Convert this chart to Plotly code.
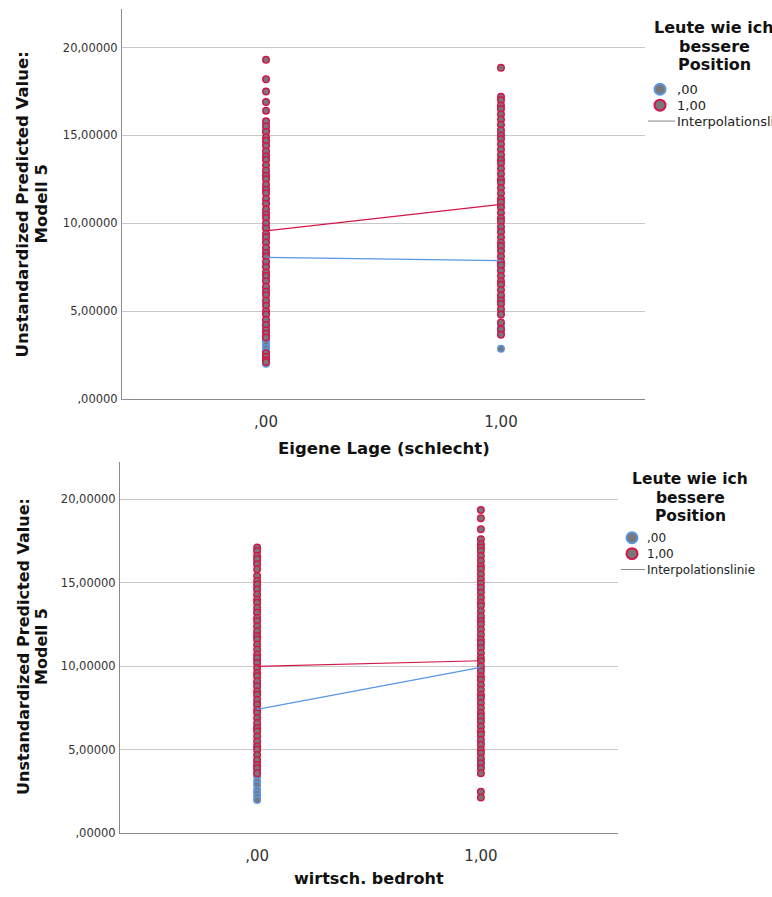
import plotly.graph_objects as go

# ---------------- data ----------------
x_categories = [0, 1]
x_ticktext = [",00", "1,00"]
y_tickvals = [0, 5, 10, 15, 20]
y_ticktext = [",00000", "5,00000", "10,00000", "15,00000", "20,00000"]
legend_labels = [",00", "1,00"]

# Chart 1: Eigene Lage (schlecht)
c1_x0_blue = [15.6, 15.3, 14.6, 13.9, 12.8, 12.0, 11.2, 10.6, 9.8, 9.0, 8.4, 7.6, 6.9, 6.2,
              5.5, 4.9, 4.4, 4.1, 3.8, 3.5, 3.3, 3.1, 2.9, 2.7, 2.5, 2.3, 2.1, 2.0]
c1_x0_red = [19.3, 18.2, 17.5, 16.9, 16.4, 15.8, 15.5, 15.2, 14.9, 14.7, 14.4, 14.1, 13.8, 13.6,
             13.3, 13.0, 12.7, 12.5, 12.2, 11.9, 11.7, 11.4, 11.1, 10.8, 10.5, 10.3, 10.0, 9.7,
             9.4, 9.2, 8.9, 8.6, 8.3, 8.1, 7.8, 7.5, 7.2, 7.0, 6.7, 6.4, 6.1, 5.9, 5.6, 5.3,
             5.0, 4.8, 4.5, 4.2, 3.9, 3.7, 3.5, 2.6, 2.4, 2.2, 2.1]
c1_x1_blue = [15.1, 13.7, 12.4, 11.0, 9.6, 8.5, 7.7, 7.5, 6.6, 5.8, 4.9, 4.2, 4.0, 3.8, 2.85]
c1_x1_red = [18.85, 17.2, 17.0, 16.7, 16.5, 16.2, 15.9, 15.6, 15.3, 15.0, 14.8, 14.5, 14.2, 13.9,
             13.6, 13.4, 13.1, 12.8, 12.5, 12.3, 12.0, 11.7, 11.4, 11.2, 10.9, 10.6, 10.3, 10.1,
             9.8, 9.5, 9.2, 8.9, 8.7, 8.4, 8.1, 7.8, 7.6, 7.3, 7.0, 6.7, 6.5, 6.2, 5.9, 5.6,
             5.4, 5.1, 4.8, 4.35, 3.95, 3.65]
c1_line_blue = [8.06, 7.87]
c1_line_red = [9.56, 11.07]

# Chart 2: wirtsch. bedroht
c2_x0_blue = [16.2, 14.7, 13.3, 11.9, 10.4, 9.0, 7.8, 6.4, 5.2, 4.3, 4.0, 3.7, 3.4, 3.1, 2.9,
              2.6, 2.4, 2.2, 2.0]
c2_x0_red = [17.1, 16.9, 16.6, 16.4, 16.1, 15.8, 15.4, 15.1, 14.9, 14.6, 14.3, 14.0, 13.8, 13.5,
             13.2, 12.9, 12.7, 12.4, 12.1, 11.8, 11.6, 11.3, 11.0, 10.7, 10.5, 10.2, 9.9, 9.6,
             9.4, 9.1, 8.8, 8.5, 8.3, 8.0, 7.7, 7.4, 7.2, 6.9, 6.6, 6.3, 6.1, 5.8, 5.5, 5.2,
             5.0, 4.7, 4.4, 4.1, 3.9, 3.6]
c2_x1_blue = [14.6, 12.9, 11.3, 9.9, 8.2, 6.8, 5.4, 4.4, 4.2, 4.0]
c2_x1_red = [19.35, 18.85, 18.2, 17.6, 17.3, 17.1, 16.9, 16.6, 16.3, 16.0, 15.8, 15.5, 15.2, 14.95,
             14.7, 14.4, 14.1, 13.8, 13.6, 13.3, 13.0, 12.7, 12.5, 12.2, 11.9, 11.6, 11.4, 11.1,
             10.8, 10.5, 10.3, 10.0, 9.7, 9.4, 9.2, 8.9, 8.6, 8.3, 8.1, 7.8, 7.5, 7.2, 7.0, 6.7,
             6.4, 6.1, 5.9, 5.6, 5.3, 5.0, 4.8, 4.5, 4.2, 3.9, 3.6, 2.5, 2.15]
c2_line_blue = [7.42, 9.93]
c2_line_red = [9.99, 10.33]

# ---------------- style ----------------
W, H = 772, 897
BLUE = "#5a96e3"
RED = "#d2164a"
FILL = "#787878"
GRID = "#c9c9c9"
AXIS = "#8a8a8a"
FONT = "DejaVu Sans"


def px(x):
    return x / W


def py(y):
    return 1 - y / H


fig = go.Figure()


def add_chart(xa, ya, x0b, x0r, x1b, x1r, lb, lr):
    xb = [x_categories[0]] * len(x0b) + [x_categories[1]] * len(x1b)
    yb = x0b + x1b
    xr = [x_categories[0]] * len(x0r) + [x_categories[1]] * len(x1r)
    yr = x0r + x1r
    fig.add_trace(go.Scatter(x=xb, y=yb, mode="markers", xaxis=xa, yaxis=ya, showlegend=False,
                             marker=dict(size=6.5, color=FILL, line=dict(color=BLUE, width=1.5))))
    fig.add_trace(go.Scatter(x=xr, y=yr, mode="markers", xaxis=xa, yaxis=ya, showlegend=False,
                             marker=dict(size=6.5, color=FILL, line=dict(color=RED, width=1.5))))
    fig.add_trace(go.Scatter(x=x_categories, y=lb, mode="lines", xaxis=xa, yaxis=ya,
                             showlegend=False, line=dict(color=BLUE, width=1.2)))
    fig.add_trace(go.Scatter(x=x_categories, y=lr, mode="lines", xaxis=xa, yaxis=ya,
                             showlegend=False, line=dict(color=RED, width=1.2)))


add_chart("x", "y", c1_x0_blue, c1_x0_red, c1_x1_blue, c1_x1_red, c1_line_blue, c1_line_red)
add_chart("x2", "y2", c2_x0_blue, c2_x0_red, c2_x1_blue, c2_x1_red, c2_line_blue, c2_line_red)

xr = [-0.613, 1.613]
yr = [0, 22.2]


def xaxis(dom, anchor):
    return dict(domain=dom, anchor=anchor, range=xr, tickvals=x_categories, ticktext=x_ticktext,
                showgrid=False, zeroline=False, showline=True, linecolor=AXIS, linewidth=1,
                ticks="outside", ticklen=9, tickcolor="rgba(0,0,0,0)",
                tickfont=dict(family=FONT, size=15, color="#333"))


def yaxis(dom, anchor):
    return dict(domain=dom, anchor=anchor, range=yr, tickvals=y_tickvals, ticktext=y_ticktext,
                showgrid=True, gridcolor=GRID, gridwidth=1, zeroline=False, showline=True,
                linecolor=AXIS, linewidth=1, ticks="outside", ticklen=1,
                tickcolor="rgba(0,0,0,0)", tickfont=dict(family=FONT, size=11.5, color="#333"))


annotations = []
shapes = []


def text(x, y, s, size, bold=False, xanchor="center", angle=0, color="#111"):
    annotations.append(dict(x=px(x), y=py(y), xref="paper", yref="paper", showarrow=False,
                            text=("<b>%s</b>" % s) if bold else s, xanchor=xanchor,
                            yanchor="middle", textangle=angle,
                            font=dict(family=FONT, size=size, color=color)))


# axis titles
text(22, 206, "Unstandardized Predicted Value:", 16.5, True, angle=-90)
text(41, 206, "Modell 5", 16.5, True, angle=-90)
text(384, 452, "Eigene Lage (schlecht)", 16.5, True)

text(24, 652, "Unstandardized Predicted Value:", 16, True, angle=-90)
text(42, 652, "Modell 5", 16, True, angle=-90)
text(369, 885, "wirtsch. bedroht", 16, True)


def legend(cx, ty, tsize, sx, iy, tx, lx0, lx1, isize):
    text(cx, ty, "Leute wie ich", tsize, True)
    text(cx, ty + 18.5, "bessere", tsize, True)
    text(cx, ty + 37, "Position", tsize, True)
    for i, (lab, col) in enumerate(zip(legend_labels, [BLUE, RED])):
        yy = iy + 16 * i
        shapes.append(dict(type="circle", xref="paper", yref="paper",
                           x0=px(sx - 5.5), x1=px(sx + 5.5), y0=py(yy + 5.5), y1=py(yy - 5.5),
                           fillcolor=FILL, line=dict(color=col, width=2)))
        text(tx, yy, lab, isize, xanchor="left", color="#222")
    yy = iy + 32
    shapes.append(dict(type="line", xref="paper", yref="paper", x0=px(lx0), x1=px(lx1),
                       y0=py(yy), y1=py(yy), line=dict(color="#888", width=1)))
    text(tx, yy, "Interpolationslinie", isize, xanchor="left", color="#222")


legend(714, 28, 16, 660, 90, 675, 648, 675, 13)
legend(690, 483, 15.5, 632, 542, 645, 621, 645, 12)

fig.update_layout(
    width=W, height=H, margin=dict(l=0, r=0, t=0, b=0),
    paper_bgcolor="white", plot_bgcolor="white", showlegend=False,
    xaxis=xaxis([122 / W, 645 / W], "y"),
    yaxis=yaxis([py(402), py(9)], "x"),
    xaxis2=xaxis([120 / W, 618 / W], "y2"),
    yaxis2=yaxis([py(840), py(466)], "x2"),
    annotations=annotations, shapes=shapes,
)

fig.write_html("out.html", config={"displayModeBar": False},
               post_script="document.body.style.margin='0';document.body.style.overflow='hidden';")
